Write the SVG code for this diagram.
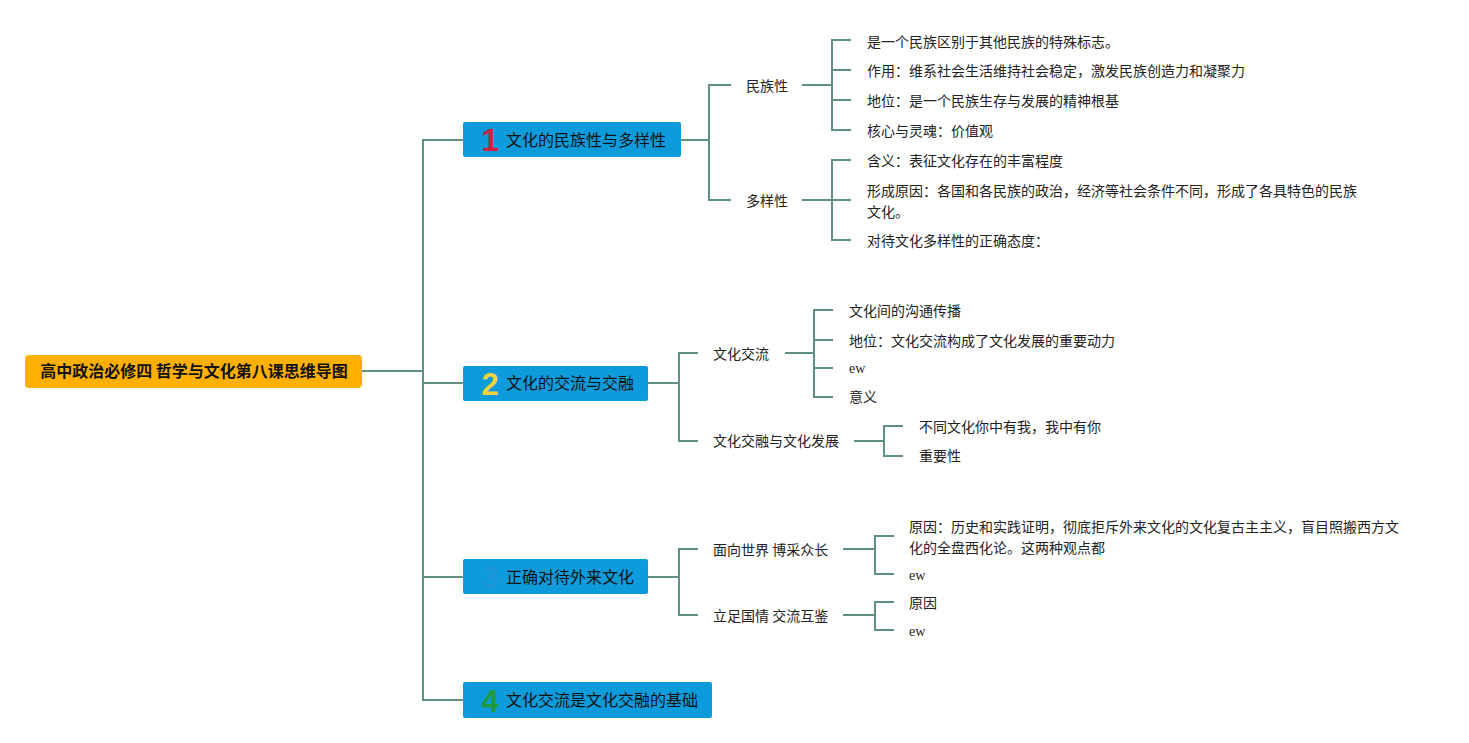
<svg xmlns="http://www.w3.org/2000/svg" width="1469" height="743" viewBox="0 0 1469 743">
<style>
.bg{fill:#ffffff}
.ln{fill:none;stroke:#5E9086;stroke-width:2}
.root{fill:#FFB000}
.br{fill:#0E9BDB}
.rt{font-family:"Noto Sans CJK SC","Liberation Sans",sans-serif;font-size:16px;font-weight:bold;fill:#111111}
.bt{font-family:"Noto Sans CJK SC","Liberation Sans",sans-serif;font-size:16px;fill:#111111}
.ct{font-family:"Noto Sans CJK SC","Liberation Sans",sans-serif;font-size:14px;fill:#222222}
.ew{font-family:"Liberation Serif","DejaVu Serif",serif;font-size:14px;fill:#222222}
.ic{font-family:"Liberation Sans","DejaVu Sans",sans-serif;font-size:31px;font-weight:900}
</style>
<rect class="bg" x="0" y="0" width="1469" height="743"/>
<g id="connectors">
<path class="ln" d="M362,371 H423"/>
<path class="ln" d="M463,140 H423 V700 H463 M423,383 H463 M423,577 H463"/>
<path class="ln" d="M681,140 H709 M731,85 H709 V200 H731"/>
<path class="ln" d="M802,85 H832 M851,40 H832 V130 H851 M832,70 H851 M832,100 H851"/>
<path class="ln" d="M802,200 H851 M851,160 H832 V240 H851"/>
<path class="ln" d="M648,383 H679 M698,353 H679 V441 H698"/>
<path class="ln" d="M785,353 H814 M833,310 H814 V397 H833 M814,340 H833 M814,368 H833"/>
<path class="ln" d="M854,441 H884 M903,426 H884 V456 H903"/>
<path class="ln" d="M648,577 H679 M698,549 H679 V615 H698"/>
<path class="ln" d="M843,549 H875 M894,536 H875 V574 H894"/>
<path class="ln" d="M843,615 H875 M894,602 H875 V630 H894"/>
</g>
<g id="root">
<rect class="root" x="25" y="355" width="337" height="33" rx="4"/>
<text class="rt" x="194" y="377" text-anchor="middle">高中政治必修四 哲学与文化第八课思维导图</text>
</g>
<g id="b1">
<rect class="br" x="463" y="122" width="218" height="35" rx="2"/>
<text class="ic" x="490" y="151" text-anchor="middle" fill="#D31F3F">1</text>
<text class="bt" x="506" y="146">文化的民族性与多样性</text>
</g>
<g id="b2">
<rect class="br" x="463" y="366" width="185" height="35" rx="2"/>
<text class="ic" x="490" y="395" text-anchor="middle" fill="#F4D33C">2</text>
<text class="bt" x="506" y="389">文化的交流与交融</text>
</g>
<g id="b3">
<rect class="br" x="463" y="559" width="185" height="35" rx="2"/>
<text class="ic" x="490" y="588" text-anchor="middle" fill="#1C96D6">3</text>
<text class="bt" x="506" y="583">正确对待外来文化</text>
</g>
<g id="b4">
<rect class="br" x="463" y="682" width="249" height="36" rx="2"/>
<text class="ic" x="490" y="712" text-anchor="middle" fill="#1E9A3A">4</text>
<text class="bt" x="506" y="706">文化交流是文化交融的基础</text>
</g>
<g id="n-minzuxing"><text class="ct" x="746" y="91">民族性</text></g>
<g id="n-duoyangxing"><text class="ct" x="746" y="206">多样性</text></g>
<g id="l1"><text class="ct" x="867" y="47">是一个民族区别于其他民族的特殊标志。</text></g>
<g id="l2"><text class="ct" x="867" y="76">作用：维系社会生活维持社会稳定，激发民族创造力和凝聚力</text></g>
<g id="l3"><text class="ct" x="867" y="106">地位：是一个民族生存与发展的精神根基</text></g>
<g id="l4"><text class="ct" x="867" y="136">核心与灵魂：价值观</text></g>
<g id="l5"><text class="ct" x="867" y="166">含义：表征文化存在的丰富程度</text></g>
<g id="l6"><text class="ct" x="867" y="196">形成原因：各国和各民族的政治，经济等社会条件不同，形成了各具特色的民族</text><text class="ct" x="867" y="217">文化。</text></g>
<g id="l7"><text class="ct" x="867" y="246">对待文化多样性的正确态度：</text></g>
<g id="n-jiaoliu"><text class="ct" x="713" y="359">文化交流</text></g>
<g id="n-jiaorong"><text class="ct" x="713" y="446">文化交融与文化发展</text></g>
<g id="m1"><text class="ct" x="849" y="316">文化间的沟通传播</text></g>
<g id="m2"><text class="ct" x="849" y="346">地位：文化交流构成了文化发展的重要动力</text></g>
<g id="m3"><text class="ew" x="849" y="373">ew</text></g>
<g id="m4"><text class="ct" x="849" y="402">意义</text></g>
<g id="m5"><text class="ct" x="919" y="432">不同文化你中有我，我中有你</text></g>
<g id="m6"><text class="ct" x="919" y="461">重要性</text></g>
<g id="n-mianxiang"><text class="ct" x="713" y="555">面向世界 博采众长</text></g>
<g id="n-lizu"><text class="ct" x="713" y="621">立足国情 交流互鉴</text></g>
<g id="k1"><text class="ct" x="909" y="532">原因：历史和实践证明，彻底拒斥外来文化的文化复古主主义，盲目照搬西方文</text><text class="ct" x="909" y="553">化的全盘西化论。这两种观点都</text></g>
<g id="k2"><text class="ew" x="909" y="580">ew</text></g>
<g id="k3"><text class="ct" x="909" y="608">原因</text></g>
<g id="k4"><text class="ew" x="909" y="636">ew</text></g>
</svg>
